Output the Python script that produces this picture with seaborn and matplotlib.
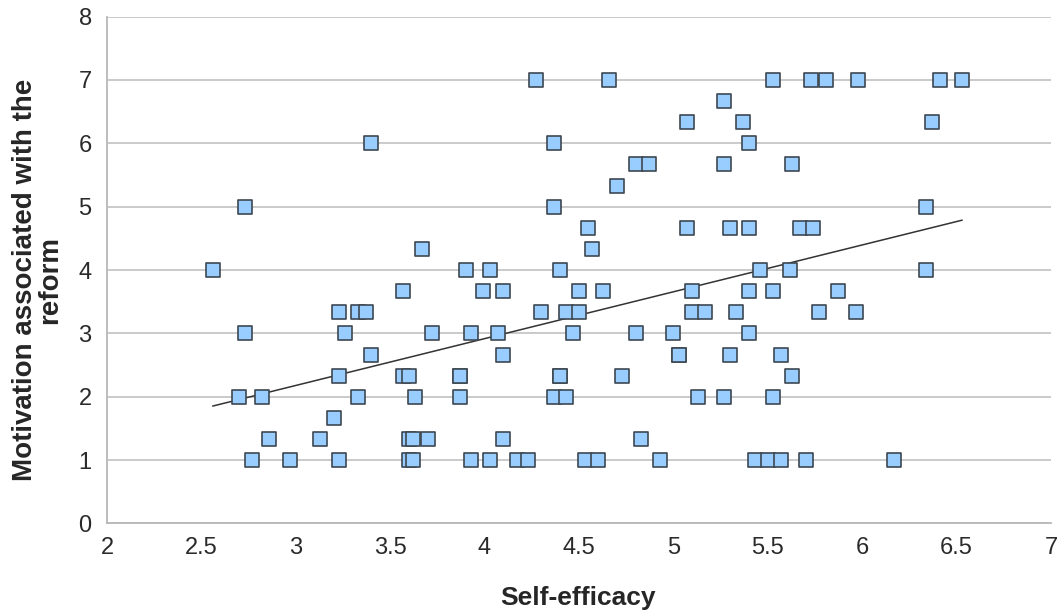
import numpy as np
import pandas as pd
import matplotlib.pyplot as plt
import seaborn as sns

# self-efficacy (x) grouped by motivation level (y)
x_7 = [4.27, 4.66, 5.53, 5.73, 5.81, 5.98, 6.41, 6.53]
x_667 = [5.27]
x_633 = [5.07, 5.37, 6.37]
x_6 = [3.40, 4.37, 5.40]
x_567 = [4.80, 4.87, 5.27, 5.63]
x_533 = [4.70]
x_5 = [2.73, 4.37, 6.34]
x_467 = [4.55, 5.07, 5.30, 5.40, 5.67, 5.74]
x_433 = [3.67, 4.57]
x_4 = [2.56, 3.90, 4.03, 4.40, 5.46, 5.62, 6.34]
x_367 = [3.57, 3.99, 4.10, 4.50, 4.63, 5.10, 5.40, 5.53, 5.87]
x_333 = [3.23, 3.33, 3.37, 4.30, 4.43, 4.50, 5.10, 5.17, 5.33, 5.77, 5.97]
x_3 = [2.73, 3.26, 3.72, 3.93, 4.07, 4.47, 4.80, 5.00, 5.40]
x_267 = [3.40, 4.10, 5.03, 5.03, 5.30, 5.57]
x_233 = [3.23, 3.57, 3.60, 3.87, 3.87, 4.40, 4.40, 4.73, 5.63]
x_2 = [2.70, 2.82, 3.33, 3.63, 3.87, 4.37, 4.43, 5.13, 5.27, 5.53]
x_167 = [3.20]
x_133 = [2.86, 3.13, 3.60, 3.62, 3.70, 4.10, 4.83]
x_1 = [2.77, 2.97, 3.23, 3.60, 3.62, 3.93, 4.03, 4.17, 4.23, 4.53, 4.60,
       4.93, 5.43, 5.50, 5.57, 5.70, 6.17]

levels = [7, 20/3, 19/3, 6, 17/3, 16/3, 5, 14/3, 13/3, 4, 11/3, 10/3, 3,
          8/3, 7/3, 2, 5/3, 4/3, 1]
groups = [x_7, x_667, x_633, x_6, x_567, x_533, x_5, x_467, x_433, x_4,
          x_367, x_333, x_3, x_267, x_233, x_2, x_167, x_133, x_1]

xticks = [2, 2.5, 3, 3.5, 4, 4.5, 5, 5.5, 6, 6.5, 7]
xticklabels = ['2', '2.5', '3', '3.5', '4', '4.5', '5', '5.5', '6', '6.5', '7']

rows = []
for lv, xs in zip(levels, groups):
    for xv in xs:
        rows.append((xv, lv))
df = pd.DataFrame(rows, columns=['self_efficacy', 'motivation'])

sns.set_style('white')
plt.rcParams['font.family'] = ['Liberation Sans', 'DejaVu Sans']

fig = plt.figure(figsize=(10.59, 6.14), dpi=100)
ax = fig.add_axes([0.101, 0.1474, 0.8914, 0.8257])

ax.yaxis.grid(True, color='#c6c6c6', lw=1.3)
ax.set_axisbelow(True)

sns.scatterplot(data=df, x='self_efficacy', y='motivation', marker='s', s=88,
                color='#99ccff', edgecolor='#3d4852', linewidth=1.2, ax=ax,
                zorder=3)
sns.regplot(data=df, x='self_efficacy', y='motivation', scatter=False, ci=None,
            color='#333333', line_kws={'lw': 1.1, 'zorder': 2}, ax=ax)

ax.set_xlim(2, 7)
ax.set_ylim(0, 8)
ax.set_xticks(xticks)
ax.set_xticklabels(xticklabels)
ax.set_yticks(range(0, 9))

for s in ['top', 'right']:
    ax.spines[s].set_visible(False)
for s in ['left', 'bottom']:
    ax.spines[s].set_color('#b8b8b8')
    ax.spines[s].set_linewidth(1.3)

ax.tick_params(axis='x', length=5, width=1.3, color='#b8b8b8', labelsize=17,
               pad=5, labelcolor='#2a2a2a')
ax.tick_params(axis='y', length=8, width=1.3, color='#c6c6c6', labelsize=17,
               pad=3, labelcolor='#2a2a2a')

ax.set_xlabel('')
ax.set_ylabel('')
fig.text(0.546, 0.026, 'Self-efficacy', fontsize=19, fontweight='bold',
         ha='center', va='center')
fig.text(0.0355, 0.544, 'Motivation associated with the\nreform', fontsize=20,
         fontweight='bold', rotation=90, ha='center', va='center',
         multialignment='center', linespacing=1.0)

fig.savefig('out.png', dpi=100)
